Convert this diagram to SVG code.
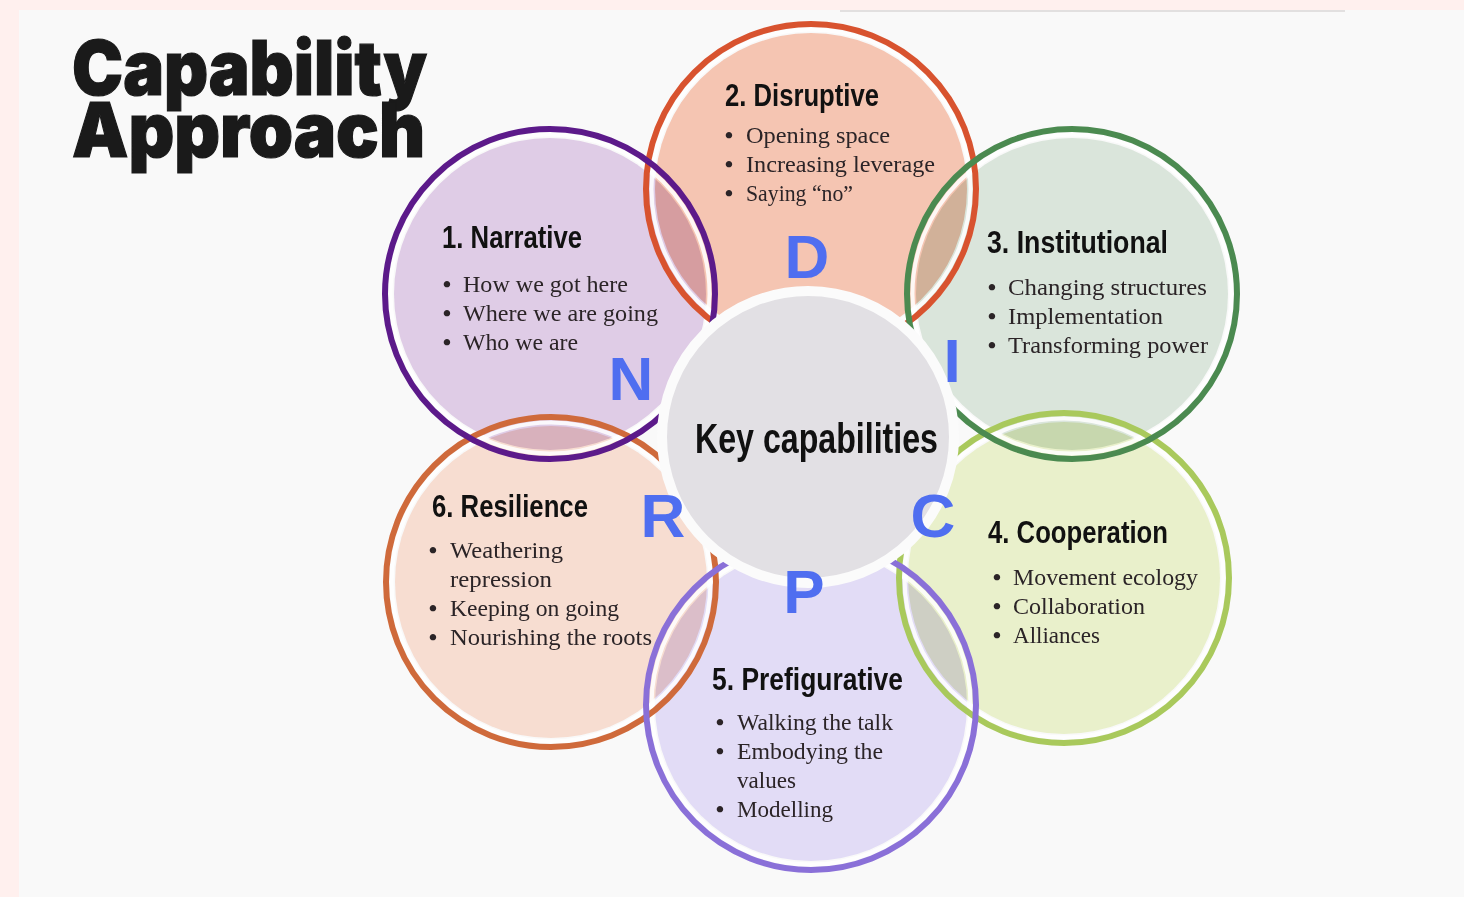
<svg xmlns="http://www.w3.org/2000/svg" width="1464" height="897" viewBox="0 0 1464 897">
<style>
.fill{mix-blend-mode:multiply}
.gap{fill:none;stroke:#ffffff;stroke-width:4;stroke-opacity:0.85}
.ring{fill:none;stroke-width:6}
.head{font-family:"Liberation Sans","Arial",sans-serif;font-weight:bold;font-size:31px;fill:#111111}
.body{font-family:"Liberation Serif","Times New Roman",serif;font-size:23px;fill:#2b2427}
.bul{font-family:"Liberation Serif","Times New Roman",serif;font-weight:bold;font-size:24px;fill:#2b2427;text-anchor:middle}
.ltr{font-family:"Liberation Sans","Arial",sans-serif;font-weight:bold;font-size:62px;fill:#4f6ef0;text-anchor:middle}
.title{font-family:"Inter","Liberation Sans",sans-serif;font-weight:900;font-size:76px;fill:#1a1a1a;stroke:#1a1a1a;stroke-width:1.2}
</style>
<rect x="0" y="0" width="1464" height="897" fill="#fff0ee"/>
<rect x="19" y="10" width="1445" height="887" fill="#f9f9f9"/>
<rect x="840" y="10" width="505" height="2" fill="#d8d6d6" opacity="0.7"/>

<g id="title">
<text class="title" x="72" y="95" textLength="355" lengthAdjust="spacingAndGlyphs">Capability</text>
<text class="title" x="72" y="157" textLength="353" lengthAdjust="spacingAndGlyphs">Approach</text>
</g>

<g id="fills" style="isolation:isolate">
<circle class="fill" cx="550" cy="294" r="156" fill="#dfcce6"/>
<circle class="fill" cx="811" cy="189" r="156" fill="#f5c5b2"/>
<circle class="fill" cx="1072" cy="294" r="156" fill="#dae5db"/>
<circle class="fill" cx="1064" cy="578" r="156" fill="#e9f0cb"/>
<circle class="fill" cx="811" cy="705" r="156" fill="#e2dcf6"/>
<circle class="fill" cx="551" cy="582" r="156" fill="#f7ddd1"/>
</g>

<g id="connectors">
<circle class="gap" cx="550" cy="294" r="159.5"/>
<circle class="gap" cx="811" cy="189" r="159.5"/>
<circle class="gap" cx="1072" cy="294" r="159.5"/>
<circle class="gap" cx="1064" cy="578" r="159.5"/>
<circle class="gap" cx="811" cy="705" r="159.5"/>
<circle class="gap" cx="551" cy="582" r="159.5"/>
</g>

<g id="n6-resilience">
<circle class="ring" cx="551" cy="582" r="165" stroke="#cf6a3b"/>
<text class="head" x="432" y="517" textLength="156" lengthAdjust="spacingAndGlyphs">6. Resilience</text>
<text class="bul" x="433" y="558">•</text><text class="body" x="450" y="558" textLength="113" lengthAdjust="spacingAndGlyphs">Weathering</text>
<text class="body" x="450" y="587" textLength="102" lengthAdjust="spacingAndGlyphs">repression</text>
<text class="bul" x="433" y="616">•</text><text class="body" x="450" y="616" textLength="169" lengthAdjust="spacingAndGlyphs">Keeping on going</text>
<text class="bul" x="433" y="645">•</text><text class="body" x="450" y="645" textLength="202" lengthAdjust="spacingAndGlyphs">Nourishing the roots</text>
</g>

<g id="n2-disruptive">
<circle class="ring" cx="811" cy="189" r="165" stroke="#d8532f"/>
<text class="head" x="725" y="106" textLength="154" lengthAdjust="spacingAndGlyphs">2. Disruptive</text>
<text class="bul" x="729" y="143">•</text><text class="body" x="746" y="143" textLength="144" lengthAdjust="spacingAndGlyphs">Opening space</text>
<text class="bul" x="729" y="172">•</text><text class="body" x="746" y="172" textLength="189" lengthAdjust="spacingAndGlyphs">Increasing leverage</text>
<text class="bul" x="729" y="201">•</text><text class="body" x="746" y="201" textLength="107" lengthAdjust="spacingAndGlyphs">Saying “no”</text>
</g>

<g id="n1-narrative">
<circle class="ring" cx="550" cy="294" r="165" stroke="#5c1a8a"/>
<text class="head" x="442" y="248" textLength="140" lengthAdjust="spacingAndGlyphs">1. Narrative</text>
<text class="bul" x="447" y="292">•</text><text class="body" x="463" y="292" textLength="165" lengthAdjust="spacingAndGlyphs">How we got here</text>
<text class="bul" x="447" y="321">•</text><text class="body" x="463" y="321" textLength="195" lengthAdjust="spacingAndGlyphs">Where we are going</text>
<text class="bul" x="447" y="350">•</text><text class="body" x="463" y="350" textLength="115" lengthAdjust="spacingAndGlyphs">Who we are</text>
</g>

<g id="n4-cooperation">
<circle class="ring" cx="1064" cy="578" r="165" stroke="#a9c95c"/>
<text class="head" x="988" y="543" textLength="180" lengthAdjust="spacingAndGlyphs">4. Cooperation</text>
<text class="bul" x="997" y="585">•</text><text class="body" x="1013" y="585" textLength="185" lengthAdjust="spacingAndGlyphs">Movement ecology</text>
<text class="bul" x="997" y="614">•</text><text class="body" x="1013" y="614" textLength="132" lengthAdjust="spacingAndGlyphs">Collaboration</text>
<text class="bul" x="997" y="643">•</text><text class="body" x="1013" y="643" textLength="87" lengthAdjust="spacingAndGlyphs">Alliances</text>
</g>

<g id="n3-institutional">
<circle class="ring" cx="1072" cy="294" r="165" stroke="#4b8a50"/>
<text class="head" x="987" y="253" textLength="181" lengthAdjust="spacingAndGlyphs">3. Institutional</text>
<text class="bul" x="992" y="295">•</text><text class="body" x="1008" y="295" textLength="199" lengthAdjust="spacingAndGlyphs">Changing structures</text>
<text class="bul" x="992" y="324">•</text><text class="body" x="1008" y="324" textLength="155" lengthAdjust="spacingAndGlyphs">Implementation</text>
<text class="bul" x="992" y="353">•</text><text class="body" x="1008" y="353" textLength="200" lengthAdjust="spacingAndGlyphs">Transforming power</text>
</g>

<g id="n5-prefigurative">
<circle class="ring" cx="811" cy="705" r="165" stroke="#8a70d8"/>
<text class="head" x="712" y="690" textLength="191" lengthAdjust="spacingAndGlyphs">5. Prefigurative</text>
<text class="bul" x="720" y="730">•</text><text class="body" x="737" y="730" textLength="156" lengthAdjust="spacingAndGlyphs">Walking the talk</text>
<text class="bul" x="720" y="759">•</text><text class="body" x="737" y="759" textLength="146" lengthAdjust="spacingAndGlyphs">Embodying the</text>
<text class="body" x="737" y="788" textLength="59" lengthAdjust="spacingAndGlyphs">values</text>
<text class="bul" x="720" y="817">•</text><text class="body" x="737" y="817" textLength="96" lengthAdjust="spacingAndGlyphs">Modelling</text>
</g>

<g id="center">
<circle cx="808" cy="437" r="146" fill="#e2e0e4" stroke="#fbfbfb" stroke-width="10"/>
<text class="head" x="695" y="453" style="font-size:42px" textLength="243" lengthAdjust="spacingAndGlyphs">Key capabilities</text>
</g>

<g id="letters">
<text class="ltr" x="631" y="400">N</text>
<text class="ltr" x="807" y="278">D</text>
<text class="ltr" x="952" y="382">I</text>
<text class="ltr" x="933" y="537">C</text>
<text class="ltr" x="804" y="613">P</text>
<text class="ltr" x="663" y="537">R</text>
</g>
</svg>
